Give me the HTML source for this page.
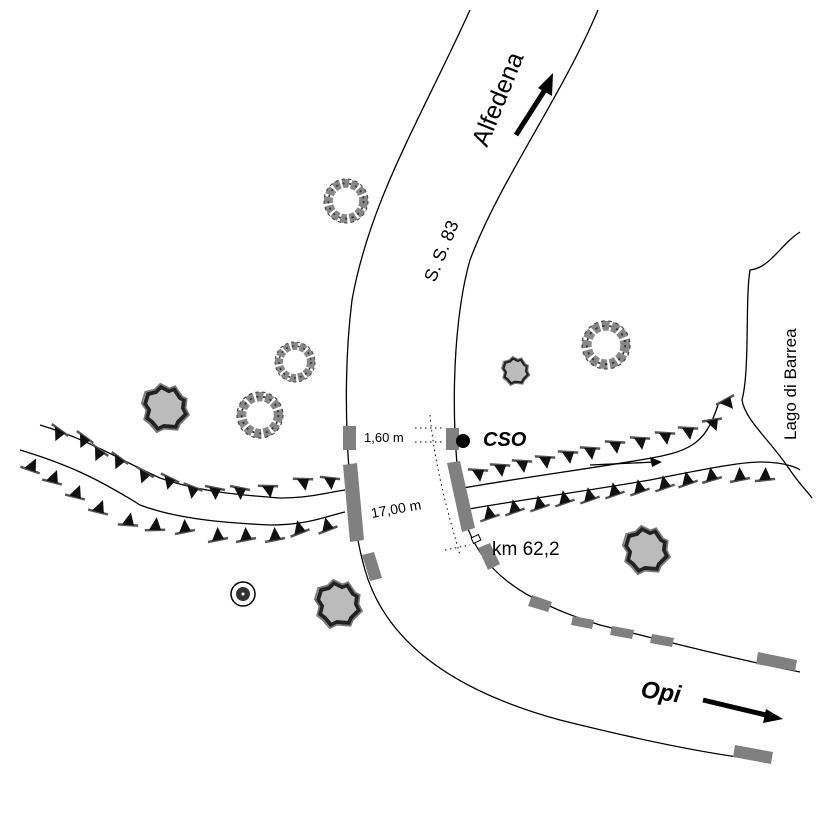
<!DOCTYPE html>
<html><head><meta charset="utf-8"><style>html,body{margin:0;padding:0;background:#fff}svg{display:block}text{font-family:"Liberation Sans",sans-serif}</style></head><body>
<svg width="827" height="827" viewBox="0 0 827 827" xmlns="http://www.w3.org/2000/svg">
<defs>
<g id="tu"><path d="M-10,-2 L10,2" stroke="#555" stroke-width="2.5"/><path d="M-6,-1 L6,1 L0.5,12 Z" fill="#111"/></g>
<g id="td"><path d="M-10,2 L10,-2" stroke="#555" stroke-width="2.5"/><path d="M-6,1 L6,-1 L-0.5,-13 Z" fill="#111"/></g>
<g id="ring"><circle r="16" fill="none" stroke="#888" stroke-width="8" stroke-dasharray="6 2"/><circle r="16" fill="none" stroke="#333" stroke-width="1.5" stroke-dasharray="2 4"/><circle r="20" fill="none" stroke="#444" stroke-width="1" stroke-dasharray="3 3"/></g>
<g id="bush"><path d="M-18,-14 L-10,-16 L-5,-21 L3,-17 L8,-19 L14,-10 L18,-8 L17,0 L20,6 L12,14 L10,19 L-2,18 L-8,21 L-14,14 L-19,10 L-17,2 L-21,-4 Z" fill="#bbb" stroke="#222" stroke-width="4"/><path d="M-18,-14 L-10,-16 L-5,-21 L3,-17 L8,-19 L14,-10 L18,-8 L17,0 L20,6 L12,14 L10,19 L-2,18 L-8,21 L-14,14 L-19,10 L-17,2 L-21,-4 Z" fill="none" stroke="#777" stroke-width="1.5" transform="scale(1.15)"/></g>
</defs>
<g fill="none" stroke="#000" stroke-width="1.3">
<path d="M470,10 C420,120 370,200 352,300 C342,380 345,500 365,570 C385,640 450,690 560,720 C640,740 700,752 745,758"/>
<path d="M598,10 C560,100 500,180 470,260 C450,330 450,450 465,520 C480,570 520,600 600,625 C680,645 740,660 800,672"/>
<path d="M40,425 C90,440 120,460 160,478 C200,492 240,495 280,498 C310,498 330,492 345,490"/>
<path d="M20,450 C70,465 100,480 140,505 C180,520 230,523 270,525 C310,525 330,515 345,512"/>
<path d="M463,488 C520,478 580,470 640,460 C690,452 705,445 718,405"/>
<path d="M463,510 C520,500 580,492 650,480 C700,470 740,462 760,462 C790,462 800,470 800,470"/>
<path d="M800,232 C780,245 770,268 750,270 C745,300 750,370 742,400 C745,420 770,440 790,470 C800,485 808,492 812,498"/>
</g>
<path d="M590,465 L655,462" stroke="#000" stroke-width="1.3"/><path d="M662,462 L650,457 L652,467Z" fill="#000"/>
<g fill="#808080">
<rect x="343" y="426" width="13" height="24"/>
<path d="M343,465 L357,463 L364,540 L350,542Z"/>
<path d="M362,555 L374,552 L382,578 L370,581Z"/>
<rect x="446" y="428" width="13" height="22"/>
<path d="M447,463 L460,461 L475,528 L462,532Z"/>
<path d="M478,548 L490,543 L500,564 L488,570Z"/>
<path d="M532,595 L552,602 L548,612 L528,606Z"/>
<path d="M573,616 L594,620 L592,629 L571,625Z"/>
<path d="M612,626 L634,630 L632,639 L610,635Z"/>
<path d="M652,634 L674,638 L672,647 L650,643Z"/>
<path d="M758,652 L797,660 L795,671 L756,664Z"/>
<path d="M735,745 L773,752 L771,764 L733,757Z"/>
</g>
<rect x="472" y="536" width="8" height="6" fill="#fff" stroke="#000" transform="rotate(-25 476 539)"/>
<circle cx="463" cy="441" r="7" fill="#000"/>
<g stroke="#000" stroke-width="1" stroke-dasharray="1.5 3.5" fill="none">
<path d="M415,428 L445,428 M415,442 L445,442"/><path d="M430,415 C435,470 450,520 460,555"/><path d="M445,550 L470,545"/>
</g>
<text x="364" y="442" font-size="13" fill="#000">1,60 m</text>
<text x="0" y="0" font-size="14" transform="translate(372,518) rotate(-10)">17,00 m</text>
<text x="483" y="446" font-size="20" font-weight="bold" font-style="italic">CSO</text>
<text x="492" y="555" font-size="19">km  62,2</text>
<text x="0" y="0" font-size="18" transform="translate(435,283) rotate(-68)">S. S. 83</text>
<text x="0" y="0" font-size="25" transform="translate(487,148) rotate(-68)">Alfedena</text>
<text x="0" y="0" font-size="17" transform="translate(796,440) rotate(-90)">Lago di  Barrea</text>
<text x="640" y="697" font-size="24" font-weight="bold" font-style="italic" transform="rotate(8 640 697)">Opi</text>
<path d="M516,135 L548,85" stroke="#000" stroke-width="5"/><path d="M553,73 L538,88 L552,96Z" fill="#000"/>
<path d="M703,700 L770,716" stroke="#000" stroke-width="5"/><path d="M783,719 L766,709 L763,723Z" fill="#000"/>
<g>
<use href="#tu" transform="translate(60,430) rotate(25)"/><use href="#tu" transform="translate(85,437) rotate(25)"/><use href="#tu" transform="translate(100,450) rotate(25)"/><use href="#tu" transform="translate(120,458) rotate(25)"/><use href="#tu" transform="translate(145,472) rotate(20)"/><use href="#tu" transform="translate(170,478) rotate(15)"/><use href="#tu" transform="translate(193,487) rotate(10)"/><use href="#tu" transform="translate(215,488)"/><use href="#tu" transform="translate(240,488)"/><use href="#tu" transform="translate(268,486) rotate(-10)"/><use href="#tu" transform="translate(303,479) rotate(-10)"/><use href="#tu" transform="translate(330,478) rotate(-5)"/>
<use href="#td" transform="translate(30,470) rotate(30)"/><use href="#td" transform="translate(52,482) rotate(25)"/><use href="#td" transform="translate(75,497) rotate(25)"/><use href="#td" transform="translate(98,512) rotate(25)"/><use href="#td" transform="translate(128,525) rotate(15)"/><use href="#td" transform="translate(155,530) rotate(10)"/><use href="#td" transform="translate(185,532)"/><use href="#td" transform="translate(218,540)"/><use href="#td" transform="translate(246,540)"/><use href="#td" transform="translate(275,540)"/><use href="#td" transform="translate(300,533) rotate(-10)"/><use href="#td" transform="translate(328,530) rotate(-10)"/>
<use href="#tu" transform="translate(478,470) rotate(-8)"/><use href="#tu" transform="translate(500,465) rotate(-8)"/><use href="#tu" transform="translate(522,461) rotate(-8)"/><use href="#tu" transform="translate(545,457) rotate(-8)"/><use href="#tu" transform="translate(568,452) rotate(-8)"/><use href="#tu" transform="translate(590,448) rotate(-8)"/><use href="#tu" transform="translate(615,442) rotate(-8)"/><use href="#tu" transform="translate(640,438) rotate(-8)"/><use href="#tu" transform="translate(665,433) rotate(-8)"/><use href="#tu" transform="translate(688,428) rotate(-8)"/><use href="#tu" transform="translate(712,420) rotate(-20)"/><use href="#tu" transform="translate(725,400) rotate(-40)"/>
<use href="#td" transform="translate(490,518) rotate(-8)"/><use href="#td" transform="translate(515,512) rotate(-8)"/><use href="#td" transform="translate(540,508) rotate(-8)"/><use href="#td" transform="translate(565,503) rotate(-8)"/><use href="#td" transform="translate(590,500) rotate(-8)"/><use href="#td" transform="translate(615,495) rotate(-8)"/><use href="#td" transform="translate(640,492) rotate(-8)"/><use href="#td" transform="translate(665,488) rotate(-8)"/><use href="#td" transform="translate(688,484) rotate(-8)"/><use href="#td" transform="translate(712,480) rotate(-5)"/><use href="#td" transform="translate(740,480)"/><use href="#td" transform="translate(765,480) rotate(5)"/>
</g>
<use href="#ring" transform="translate(346,201) scale(1.1)"/>
<use href="#ring" transform="translate(295,362)"/>
<use href="#ring" transform="translate(260,415) scale(1.15)"/>
<use href="#ring" transform="translate(606,345) scale(1.2)"/>
<use href="#bush" transform="translate(166,408)"/>
<use href="#bush" transform="translate(339,604)"/>
<use href="#bush" transform="translate(647,550)"/>
<use href="#bush" transform="translate(516,371) scale(0.6)"/>
<circle cx="243" cy="594" r="12" fill="none" stroke="#000" stroke-width="1.5"/><circle cx="243" cy="594" r="7" fill="#333"/><circle cx="243" cy="594" r="1.5" fill="#fff"/>
</svg>
</body></html>
